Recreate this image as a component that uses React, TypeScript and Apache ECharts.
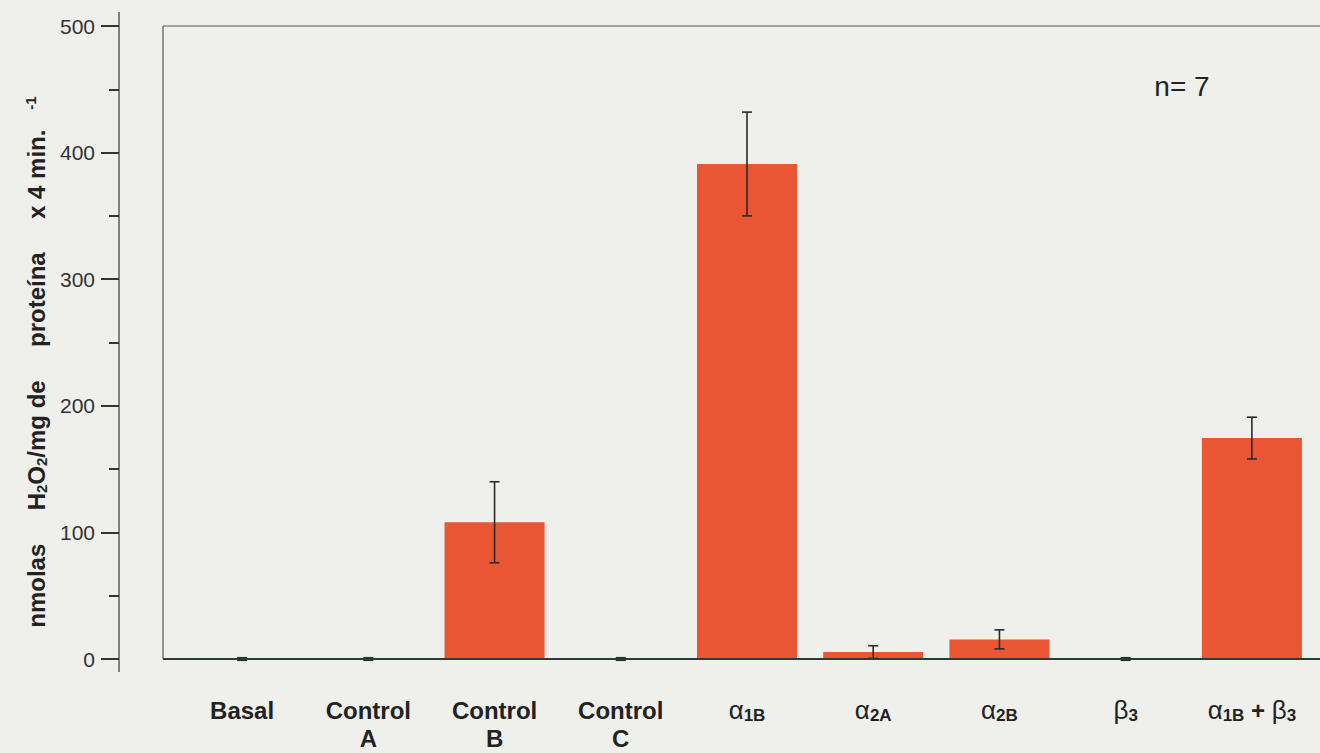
import React, { useEffect, useRef } from "react";
import * as echarts from "echarts";

const categories = ["Basal", "Control\nA", "Control\nB", "Control\nC", "a1B", "a2A", "a2B", "b3", "a1Bb3"];
const means = [0, 0, 108, 0, 391, 5.5, 15.5, 0, 174.5];
const errors = [1, 1, 32, 1, 41, 5, 7.5, 1, 16.5];
const yTicks = [0, 100, 200, 300, 400, 500];

const FONT = "Liberation Sans, Arial, sans-serif";

const labelMap: Record<string, string> = {
  a1B: "{g|α}{s|1B}",
  a2A: "{g|α}{s|2A}",
  a2B: "{g|α}{s|2B}",
  b3: "{g|β}{s|3}",
  a1Bb3: "{g|α}{s|1B}{b| + }{g|β}{s|3}",
};

export default function App() {
  const ref = useRef<HTMLDivElement>(null);
  useEffect(() => {
    const chart = echarts.init(ref.current!, null, { renderer: "svg" });
    const gridLeft = 179, gridTop = 26, gridHeight = 633;
    const W = 1320;
    const frameLeft = 163;
    const axisX = 119;
    const baseY = gridTop + gridHeight;
    chart.setOption({
      animation: false,
      backgroundColor: "#efefec",
      grid: {
        left: gridLeft,
        width: W - gridLeft - 5,
        top: gridTop,
        height: gridHeight,
        containLabel: false,
        outerBoundsMode: "none",
      },
      xAxis: {
        type: "category",
        data: categories,
        axisLine: { show: false },
        axisTick: { show: false },
        axisLabel: {
          margin: 37,
          interval: 0,
          color: "#222",
          fontFamily: FONT,
          fontWeight: "bold",
          fontSize: 24,
          lineHeight: 28,
          formatter: (v: string) => labelMap[v] || v,
          rich: {
            g: { fontFamily: FONT, fontSize: 26, color: "#222", fontWeight: "normal" },
            s: { fontFamily: FONT, fontSize: 17, color: "#222", fontWeight: "bold", verticalAlign: "bottom", padding: [12, 0, 0, 0] },
            b: { fontFamily: FONT, fontSize: 24, color: "#222", fontWeight: "bold" },
          },
        },
      },
      yAxis: {
        type: "value",
        min: yTicks[0],
        max: yTicks[yTicks.length - 1],
        interval: 100,
        offset: gridLeft - axisX,
        axisLine: { show: false },
        axisTick: { show: true, length: 18, lineStyle: { color: "#333", width: 2 } },
        minorTick: { show: true, splitNumber: 2, length: 10, lineStyle: { color: "#333", width: 2 } },
        splitLine: { show: false },
        axisLabel: { margin: 24, color: "#333", fontFamily: FONT, fontSize: 21 },
      },
      series: [
        {
          type: "bar",
          data: means,
          barWidth: 100,
          itemStyle: { color: "#ea5634" },
        },
        {
          type: "custom",
          data: means.map((m, i) => [i, m, errors[i]]),
          z: 10,
          renderItem: (params: any, api: any) => {
            const i = api.value(0), m = api.value(1), e = api.value(2);
            const top = api.coord([i, m + e]);
            const bot = api.coord([i, m - e]);
            const hw = 5;
            const style = { stroke: "#2a2a2a", lineWidth: 1.6 };
            return {
              type: "group",
              children: [
                { type: "line", shape: { x1: top[0], y1: top[1], x2: bot[0], y2: bot[1] }, style },
                { type: "line", shape: { x1: top[0] - hw, y1: top[1], x2: top[0] + hw, y2: top[1] }, style },
                { type: "line", shape: { x1: bot[0] - hw, y1: bot[1], x2: bot[0] + hw, y2: bot[1] }, style },
              ],
            };
          },
        },
      ],
      graphic: [
        { type: "line", shape: { x1: frameLeft, y1: gridTop, x2: W, y2: gridTop }, style: { stroke: "#555", lineWidth: 1.2 } },
        { type: "line", shape: { x1: frameLeft, y1: gridTop, x2: frameLeft, y2: baseY }, style: { stroke: "#555", lineWidth: 1.2 } },
        { type: "line", shape: { x1: frameLeft, y1: baseY, x2: W, y2: baseY }, style: { stroke: "#2c3a3a", lineWidth: 2 }, z: 20 },
        { type: "line", shape: { x1: axisX, y1: 12, x2: axisX, y2: 672 }, style: { stroke: "#444", lineWidth: 1.3 } },
        {
          type: "text",
          x: 1182,
          y: 86,
          style: { text: "n= 7", fontFamily: FONT, fontSize: 28, fill: "#222", textAlign: "center", textVerticalAlign: "middle" },
        },
        {
          type: "text",
          x: 36,
          y: 362,
          rotation: Math.PI / 2,
          style: {
            text: "{b|nmolas     H}{s|2}{b|O}{s|2}{b|/mg de     proteína     x 4 min.   }{p|-1}",
            textAlign: "center",
            textVerticalAlign: "middle",
            fill: "#222",
            rich: {
              b: { fontFamily: FONT, fontSize: 24, fontWeight: "bold", fill: "#222" },
              s: { fontFamily: FONT, fontSize: 15, fontWeight: "bold", fill: "#222", verticalAlign: "bottom", padding: [11, 0, 0, 0] },
              p: { fontFamily: FONT, fontSize: 15, fontWeight: "bold", fill: "#222", verticalAlign: "top", padding: [0, 0, 11, 0] },
            },
          },
        },
      ],
    });
    return () => chart.dispose();
  }, []);
  return <div ref={ref} style={{ position: "fixed", left: 0, top: 0, width: 1320, height: 753 }} />;
}
